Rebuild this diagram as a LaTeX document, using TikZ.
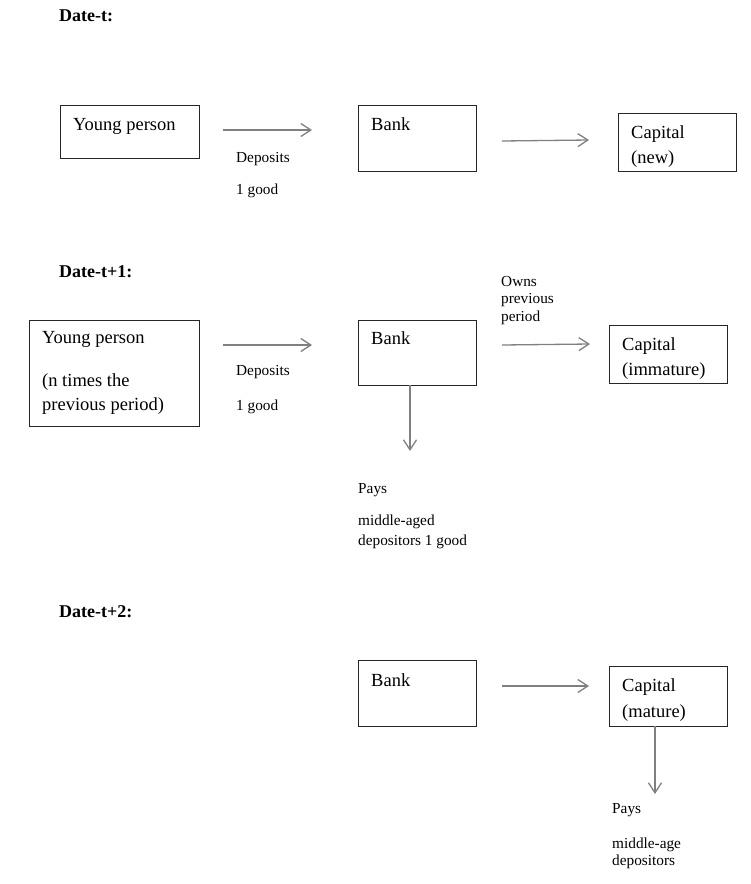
\documentclass[tikz,border=0pt]{standalone}
\usepackage{fontspec}
\setmainfont{Liberation Serif}
\usetikzlibrary{arrows.meta}
\begin{document}
\begin{tikzpicture}[x=1pt,y=-1pt,
  box/.style={draw=black!85,line width=0.9pt},
  boxtext/.style={anchor=base west,inner sep=0pt,font=\fontsize{18.5}{22}\selectfont},
  lbl/.style={anchor=base west,inner sep=0pt,font=\fontsize{15.3}{18}\selectfont},
  title/.style={anchor=base west,inner sep=0pt,font=\fontsize{18}{21}\selectfont\bfseries},
  flow/.style={draw=black!50,line width=1.3pt,-{Straight Barb[length=10pt,width=13pt,line width=1.3pt]}}]
\useasboundingbox (0,0) rectangle (751,884);

% ---- Date t ----
\node[title] (dt) at (59,21) {Date-t:};
\draw[box] (60,105) rectangle (199,158);
\node[boxtext] (yp1) at (73,130) {Young person};
\draw[box] (358,105) rectangle (476,171);
\node[boxtext] (bank1) at (371,130) {Bank};
\draw[box] (618,113) rectangle (736,171);
\node[boxtext] (cap1) at (631,138) {Capital};
\node[boxtext] (cap1b) at (631,163) {(new)};
\node[lbl] (dep1) at (236,162) {Deposits};
\node[lbl] (good1) at (236,194) {1 good};
\coordinate (a1s) at (223,130); \coordinate (a1e) at (312,130);
\coordinate (a2s) at (502,141); \coordinate (a2e) at (589,140);
\draw[flow] (a1s) -- (a1e);
\draw[flow] (a2s) -- (a2e);

% ---- Date t+1 ----
\node[title] (dt1) at (59,277) {Date-t+1:};
\draw[box] (29,320) rectangle (199,426);
\node[boxtext] (yp2) at (42,343) {Young person};
\node[boxtext] (yp2b) at (42,386) {(n times the};
\node[boxtext] (yp2c) at (42,410) {previous period)};
\draw[box] (358,320) rectangle (476,385);
\node[boxtext] (bank2) at (371,344) {Bank};
\draw[box] (609,325) rectangle (727,383);
\node[boxtext] (cap2) at (622,350) {Capital};
\node[boxtext] (cap2b) at (622,375) {(immature)};
\node[lbl] (dep2) at (236,375) {Deposits};
\node[lbl] (good2) at (236,410) {1 good};
\node[lbl] (own1) at (501,286) {Owns};
\node[lbl] (own2) at (501,303) {previous};
\node[lbl] (own3) at (501,321) {period};
\node[lbl] (pay1) at (358,493) {Pays};
\node[lbl] (pay2) at (358,525) {middle-aged};
\node[lbl] (pay3) at (358,545) {depositors 1 good};
\coordinate (b1s) at (223,345); \coordinate (b1e) at (312,345);
\coordinate (b2s) at (502,345); \coordinate (b2e) at (590,344);
\coordinate (b3s) at (410,385); \coordinate (b3e) at (410,451);
\draw[flow] (b1s) -- (b1e);
\draw[flow] (b2s) -- (b2e);
\draw[flow] (b3s) -- (b3e);

% ---- Date t+2 ----
\node[title] (dt2) at (59,617) {Date-t+2:};
\draw[box] (358,660) rectangle (476,726);
\node[boxtext] (bank3) at (371,686) {Bank};
\draw[box] (609,666) rectangle (727,726);
\node[boxtext] (cap3) at (622,691) {Capital};
\node[boxtext] (cap3b) at (622,717) {(mature)};
\node[lbl] (pay4) at (612,813) {Pays};
\node[lbl] (pay5) at (612,848) {middle-age};
\node[lbl] (pay6) at (612,865) {depositors};
\coordinate (c1s) at (502,686); \coordinate (c1e) at (589,686);
\coordinate (c2s) at (655,726); \coordinate (c2e) at (655,794);
\draw[flow] (c1s) -- (c1e);
\draw[flow] (c2s) -- (c2e);
\end{tikzpicture}
\end{document}
